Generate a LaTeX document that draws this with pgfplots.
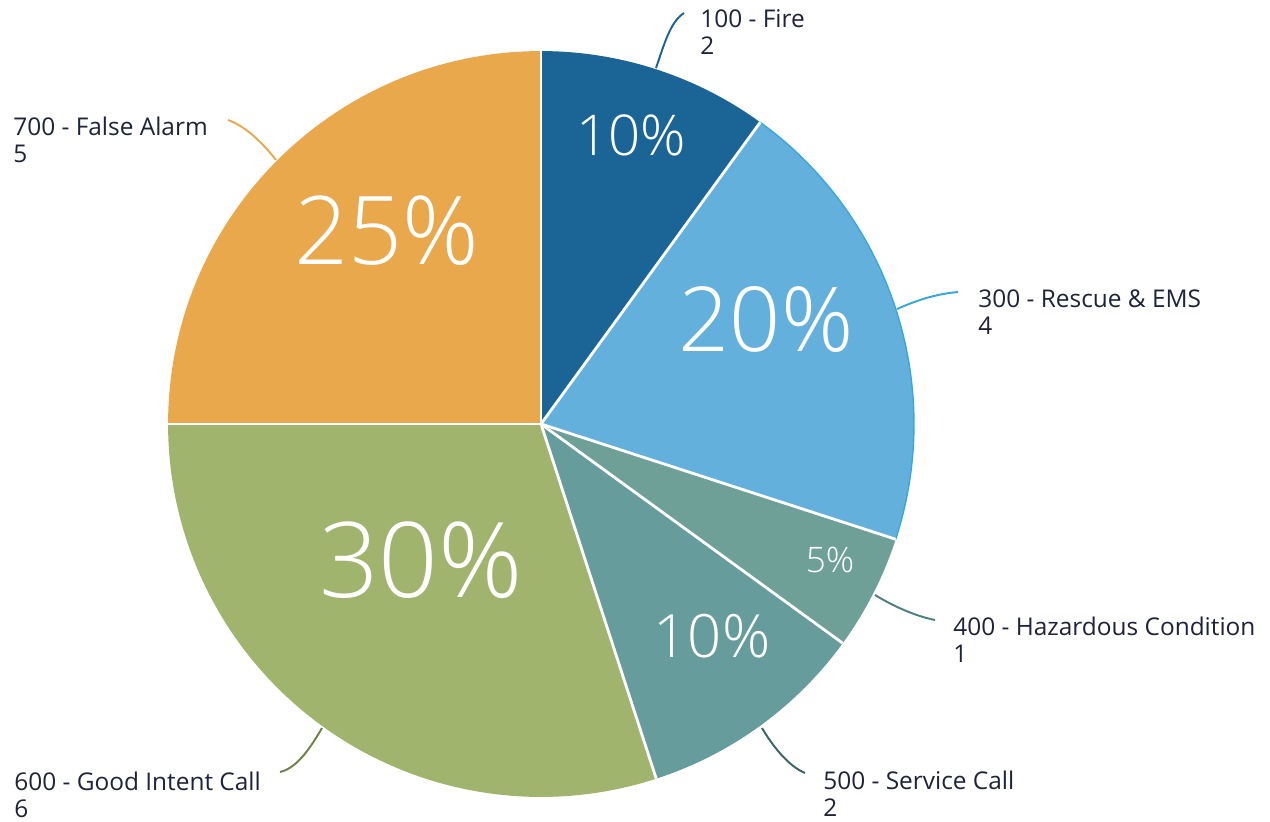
\documentclass[border=0pt]{standalone}
\usepackage{pgfplots}
\pgfplotsset{compat=1.18}
\usepackage{fontspec}
\setmainfont{Open Sans}
\newfontfamily\lightfont{Open Sans Light}

\definecolor{fireC}{RGB}{26,100,150}
\definecolor{rescueC}{RGB}{100,176,220}
\definecolor{rescueL}{RGB}{56,166,222}
\definecolor{hazC}{RGB}{110,160,152}
\definecolor{hazL}{RGB}{74,128,128}
\definecolor{servC}{RGB}{102,156,156}
\definecolor{servL}{RGB}{60,100,100}
\definecolor{goodC}{RGB}{160,180,110}
\definecolor{goodL}{RGB}{110,130,70}
\definecolor{falseC}{RGB}{232,168,75}
\definecolor{txt}{RGB}{30,34,58}

% pie: centre (541,424) px, radius 373 px = 7.46cm; total = 20 calls
% #1 = calls before this slice, #2 = calls in the slice, #3 = colour
\newcommand\slice[3]{%
  \pgfmathsetmacro\sa{90-360*#1/20}%
  \pgfmathsetmacro\ea{90-360*(#1+#2)/20}%
  \edef\tmp{\noexpand\fill[#3] (axis cs:541,424) -- ++(\sa:7.46cm)
    arc[start angle=\sa,end angle=\ea,radius=7.46cm] -- cycle;}%
  \tmp
}
\newcommand\sep[1]{%
  \pgfmathsetmacro\sa{90-360*#1/20}%
  \edef\tmp{\noexpand\draw[white,line width=1.6pt] (axis cs:541,424) -- ++(\sa:7.46cm);}%
  \tmp
}
\newcommand\lbl[4]{% x, baseline, line 1, line 2
  \node[anchor=base west,inner sep=0,txt,font=\fontsize{13.9}{16}\selectfont]
    at (axis cs:#1,#2) {#3};
  \node[anchor=base west,inner sep=0,txt,font=\fontsize{13.9}{16}\selectfont]
    at (axis cs:#1,#2+27) {#4};
}
\newcommand\pct[4]{% x, y, size, text
  \node[white,inner sep=0,font=\lightfont\fontsize{#3}{#3}\selectfont] at (axis cs:#1,#2) {#4};
}

\begin{document}
\begin{tikzpicture}
\begin{axis}[
  x=0.02cm, y=0.02cm,
  xmin=0, xmax=1270, ymin=0, ymax=821,
  y dir=reverse,
  hide axis, clip=false, scale only axis
]
\path (axis cs:0,0) rectangle (axis cs:1270,821);

% calls: Fire 2, Rescue 4, Hazardous 1, Service 2, Good Intent 6, False Alarm 5
\slice{0}{2}{fireC}
\slice{2}{4}{rescueC}
\slice{6}{1}{hazC}
\slice{7}{2}{servC}
\slice{9}{6}{goodC}
\slice{15}{5}{falseC}
\draw[rescueL,line width=0.8pt] (axis cs:541,424) ++(54:7.46cm)
  arc[start angle=54,end angle=-18,radius=7.46cm];
\sep{0}\sep{2}\sep{6}\sep{7}\sep{9}\sep{15}

% percentages
\pct{631}{135}{32}{10\%}
\pct{766}{320}{51}{20\%}
\pct{830}{560}{20}{5\%}
\pct{712}{636}{34}{10\%}
\pct{421}{560}{59.5}{30\%}
\pct{387}{231}{54}{25\%}

% leader lines
\draw[fireC,line width=1.1pt] (axis cs:656,68) .. controls (axis cs:664,45) and (axis cs:670,22) .. (axis cs:684,13);
\draw[rescueL,line width=1.1pt] (axis cs:897,309) .. controls (axis cs:915,301) and (axis cs:935,294) .. (axis cs:958,292);
\draw[hazL,line width=1.1pt] (axis cs:875,595) .. controls (axis cs:893,606) and (axis cs:915,616) .. (axis cs:935,620);
\draw[servL,line width=1.1pt] (axis cs:762,728) .. controls (axis cs:772,745) and (axis cs:788,766) .. (axis cs:805,773);
\draw[goodL,line width=1.1pt] (axis cs:322,728) .. controls (axis cs:312,745) and (axis cs:298,768) .. (axis cs:280,772);
\draw[falseC,line width=1.1pt] (axis cs:276,160) .. controls (axis cs:262,142) and (axis cs:245,126) .. (axis cs:228,120);

% category labels
\lbl{700}{28}{100 - Fire}{2}
\lbl{978}{307}{300 - Rescue \& EMS}{4}
\lbl{953}{635}{400 - Hazardous Condition}{1}
\lbl{823}{789}{500 - Service Call}{2}
\lbl{14}{790}{600 - Good Intent Call}{6}
\lbl{13}{135}{700 - False Alarm}{5}
\end{axis}
\end{tikzpicture}
\end{document}
